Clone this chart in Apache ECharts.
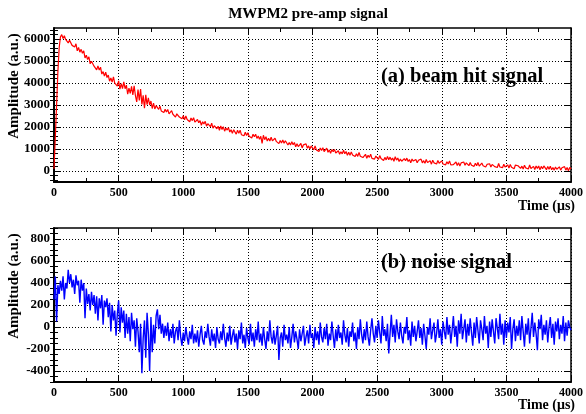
<!DOCTYPE html>
<html><head><meta charset="utf-8">
<script src="https://cdn.jsdelivr.net/npm/echarts@6/dist/echarts.min.js"></script>
<style>html,body{margin:0;padding:0;background:#fff}#c{width:586px;height:414px}</style>
</head><body><div id="c"></div>
<script>
const chartTitle = 'MWPM2 pre-amp signal';
const yTitle = 'Amplitude (a.u.)';
const xTitle = 'Time (\u03bcs)';
const labelA = '(a) beam hit signal';
const labelB = '(b) noise signal';
const xTicks = [0, 500, 1000, 1500, 2000, 2500, 3000, 3500, 4000];
const yTicksA = [0, 1000, 2000, 3000, 4000, 5000, 6000];
const yTicksB = [-400, -200, 0, 200, 400, 600, 800];
const sampleStart = 0, sampleStep = 10; // microseconds

// (a) beam hit signal, one value every 10 us (rows of 100 us)
const beamHit = [
 100, 1500, 3000, 4500, 5600, 6100, 6200, 6020, 6150, 5980,
 6070, 5820, 5940, 6000, 5710, 5770, 5640, 5780, 5460, 5620,
 5400, 5530, 5350, 5460, 5140, 5260, 5070, 5190, 4870, 4990,
 5020, 4765, 4820, 4595, 4780, 4585, 4720, 4405, 4520, 4315,
 4490, 4250, 4360, 4080, 4230, 4040, 4280, 3990, 4050, 3860,
 4100, 3720, 3970, 3740, 4050, 3740, 3900, 3490, 3770, 3530,
 3850, 3460, 3870, 3430, 3140, 3700, 3210, 3720, 3030, 3440,
 2850, 3460, 3020, 3330, 3000, 3180, 2840, 3080, 2820, 2970,
 2970, 2800, 2950, 2730, 2820, 2660, 2810, 2680, 2800, 2600,
 2570, 2740, 2580, 2660, 2450, 2600, 2620, 2450, 2530, 2370,
 2510, 2330, 2500, 2340, 2390, 2240, 2410, 2290, 2420, 2220,
 2190, 2340, 2190, 2290, 2080, 2240, 2140, 2260, 2040, 2150,
 2170, 2015, 2170, 1945, 2060, 2085, 1920, 2035, 1850, 2045,
 1890, 2015, 1810, 1955, 1860, 1975, 1770, 1875, 1710, 1875,
 1850, 1675, 1850, 1710, 1855, 1650, 1725, 1600, 1760, 1615,
 1740, 1580, 1665, 1500, 1670, 1555, 1670, 1480, 1595, 1445,
 1580, 1260, 1625, 1425, 1560, 1360, 1490, 1365, 1535, 1370,
 1320, 1490, 1345, 1435, 1245, 1390, 1270, 1410, 1265, 1375,
 1350, 1180, 1300, 1185, 1335, 1195, 1295, 1100, 1240, 1110,
 1110, 1250, 1050, 1190, 1100, 1230, 1040, 1140, 1000, 1140,
 1120, 960, 1140, 960, 1030, 890, 1045, 935, 1055, 880,
 900, 1040, 850, 960, 800, 975, 875, 975, 815, 900,
 920, 765, 875, 780, 940, 785, 885, 710, 850, 720,
 870, 730, 820, 655, 785, 665, 845, 670, 740, 610,
 630, 760, 575, 715, 620, 760, 575, 665, 540, 680,
 660, 525, 700, 565, 650, 475, 620, 505, 660, 515,
 630, 495, 590, 445, 650, 495, 590, 435, 540, 445,
 430, 565, 470, 585, 430, 525, 370, 545, 450, 515,
 520, 370, 490, 400, 540, 370, 470, 350, 520, 380,
 350, 470, 310, 490, 370, 460, 320, 480, 350, 410,
 460, 320, 400, 280, 420, 320, 460, 280, 370, 290,
 300, 410, 250, 380, 230, 370, 290, 410, 260, 370,
 360, 240, 390, 260, 320, 210, 350, 240, 390, 220,
 220, 360, 240, 330, 180, 300, 210, 330, 180, 300,
 320, 200, 280, 160, 340, 180, 260, 150, 310, 180,
 170, 280, 130, 300, 170, 240, 100, 270, 180, 240,
 250, 120, 220, 90, 260, 140, 220, 90, 270, 110,
 100, 210, 70, 230, 120, 230, 50, 210, 100, 230,
 180, 60, 210, 80, 220, 60, 160, 40, 180, 80,
 70, 190, 40, 150, 80, 200, 40, 160, 10, 160,
 90
];

// (b) noise signal, one value every 10 us (rows of 100 us)
const noise = [
 250, 460, 50, 380, 300, 420, 330, 460, 250, 400,
 350, 520, 400, 480, 360, 430, 300, 470, 380, 420,
 220, 430, 330, 400, 80, 350, 210, 300, 150, 320,
 200, 290, 120, 280, 60, 260, 170, 290, 20, 240,
 180, 260, 90, 220, -40, 200, 60, 150, -80, 120,
 240, -50, 180, 40, 150, -100, 120, -60, 90, -130,
 130, -20, 60, -180, 80, -40, -230, 30, -420, -100,
 60, -280, 130, -60, -400, 90, -230, 20, -150, 100,
 160, -20, 110, -60, 30, -100, 10, -80, 40, -130,
 -20, -100, 30, -150, -40, 0, -120, 60, -90, -170,
 -50, -130, 0, -90, -160, -40, -110, 20, -150, -60,
 -140, -30, -180, -70, 10, -120, -160, -40, -100, 30,
 -90, -170, -20, -130, -60, -190, 0, -110, -150, -40,
 -120, 30, -100, -180, -50, -130, 10, -160, -80, -20,
 -140, -60, -200, -30, -110, 40, -150, -70, -190, -10,
 -100, -160, 30, -130, -50, -180, -20, -120, 50, -140,
 -60, -170, 0, -110, -200, -40, -130, 60, -90, -150,
 -30, -160, -80, 10, -300, -100, -50, -180, 20, -120,
 -70, -150, 0, -190, -90, 30, -140, -40, -110, -200,
 -20, -130, -60, 10, -170, -90, -30, -150, 20, -100,
 -60, -190, 0, -120, -40, -160, 40, -90, -140, -10,
 -110, 30, -170, -60, -120, 50, -80, -190, -20, -130,
 20, -100, -50, -160, 60, -70, -140, -10, -180, -40,
 -90, 40, -130, -50, -200, 0, -110, 70, -70, -150,
 -20, -120, 50, -90, -170, -30, 80, -60, -140, 10,
 -100, 60, -50, -150, 100, -80, -20, -130, 30, -240,
 -60, 110, -90, 20, -140, 70, -40, -110, 40, -80,
 -150, 0, -60, 90, -120, -30, -170, 50, -90, 10,
 -130, -40, 60, -100, -10, -160, 30, -80, -200, 0,
 -70, 80, -110, -30, 40, -140, -60, 70, -100, -20,
 -160, 50, -40, -110, 90, -70, 20, -150, -30, 100,
 -90, 10, -180, 60, -60, 120, -110, -20, 70, -140,
 30, -80, 80, -50, -170, 40, -100, 90, -30, -150,
 60, -20, -120, 100, -60, 10, -190, 50, -90, 70,
 -40, -150, 80, -10, -110, 120, -70, 30, -160, 60,
 -100, 40, -50, 90, -200, -20, 70, -130, 10, -80,
 60, -120, 100, -40, -180, 30, -70, 80, -150, -10,
 130, -90, 40, -60, -210, 70, -20, 110, -120, 20,
 -70, 60, -140, 0, 90, -100, 30, -160, 50, -40,
 80, -110, 20, -60, 100, -130, 40, -80, 60, 0,
 -30
];

const FONT = 'Liberation Serif';
const toPairs = arr => arr.map((v, i) => [sampleStart + i * sampleStep, v]);
function minorVals(min, max, step, majorStep) {
  const out = [];
  for (let v = Math.ceil(min / step) * step; v <= max; v += step) {
    if (Math.abs(v % majorStep) > 1e-9) out.push(v);
  }
  return out;
}

const grids = [
  { left: 54, top: 28, width: 521, height: 154 },
  { left: 54, top: 228, width: 521, height: 154 }
];
const panels = [
  { min: -500, max: 6500, major: yTicksA, minorStep: 200, majorStep: 1000 },
  { min: -500, max: 900, major: yTicksB, minorStep: 50, majorStep: 200 }
];

const xAxis = [], yAxis = [];
const dotted = { show: true, lineStyle: { color: '#000', width: 1, type: [1, 2] } };
const plain = v => String(v);
grids.forEach((g, gi) => {
  ['bottom', 'top'].forEach(pos => {
    xAxis.push({
      type: 'value', gridIndex: gi, position: pos, min: 0, max: 4000, interval: 500,
      axisLine: { show: true, onZero: false, lineStyle: { color: '#000', width: pos === 'bottom' ? 2 : 1.5 } },
      axisTick: { show: true, inside: true, length: 7, lineStyle: { color: '#000', width: 1 } },
      minorTick: { show: true, splitNumber: 2, length: 4, lineStyle: { color: '#000', width: 1 } },
      axisLabel: pos === 'bottom'
        ? { show: true, customValues: xTicks, formatter: plain, fontFamily: FONT, fontWeight: 'bold', fontSize: 12, color: '#000', margin: 5 }
        : { show: false },
      splitLine: pos === 'bottom' ? dotted : { show: false }
    });
  });
  const p = panels[gi];
  const mv = minorVals(p.min, p.max, p.minorStep, p.majorStep);
  ['left', 'right'].forEach(pos => {
    yAxis.push({
      type: 'value', gridIndex: gi, position: pos, min: p.min, max: p.max, interval: p.majorStep / 2,
      axisLine: { show: true, onZero: false, lineStyle: { color: '#000', width: pos === 'left' ? 2 : 1.5 } },
      axisTick: { show: true, inside: true, length: 7, customValues: p.major, lineStyle: { color: '#000', width: 1 } },
      axisLabel: pos === 'left'
        ? { show: true, customValues: p.major, formatter: plain, fontFamily: FONT, fontWeight: 'bold', fontSize: 13, color: '#000', margin: 4 }
        : { show: false },
      splitLine: pos === 'left' ? dotted : { show: false }
    });
  });
  ['left', 'right'].forEach(pos => {
    yAxis.push({
      type: 'value', gridIndex: gi, position: pos, min: p.min, max: p.max, interval: p.majorStep / 2,
      axisLine: { show: false },
      axisTick: { show: true, inside: true, length: 4, customValues: mv, lineStyle: { color: '#000', width: 1 } },
      axisLabel: { show: false },
      splitLine: { show: false }
    });
  });
});

const chart = echarts.init(document.getElementById('c'), null, { renderer: 'canvas' });
const textStyle = (size) => ({ fontFamily: FONT, fontWeight: 'bold', fontSize: size, fill: '#000' });
chart.setOption({
  animation: false,
  backgroundColor: '#fff',
  grid: grids,
  xAxis, yAxis,
  series: [
    { type: 'line', xAxisIndex: 0, yAxisIndex: 0, data: toPairs(beamHit), showSymbol: false,
      lineStyle: { color: '#ff0000', width: 1.2 }, itemStyle: { color: '#ff0000' } },
    { type: 'line', xAxisIndex: 2, yAxisIndex: 4, data: toPairs(noise), showSymbol: false,
      lineStyle: { color: '#0000ff', width: 1.4 }, itemStyle: { color: '#0000ff' } }
  ],
  graphic: [
    { type: 'text', x: 308, y: 14, style: Object.assign(textStyle(15), { text: chartTitle, align: 'center', verticalAlign: 'middle' }) },
    { type: 'text', x: 14, y: 86, rotation: Math.PI / 2, style: Object.assign(textStyle(15), { text: yTitle, align: 'center', verticalAlign: 'middle' }) },
    { type: 'text', x: 14, y: 286, rotation: Math.PI / 2, style: Object.assign(textStyle(15), { text: yTitle, align: 'center', verticalAlign: 'middle' }) },
    { type: 'text', x: 575, y: 206, style: Object.assign(textStyle(14), { text: xTitle, align: 'right', verticalAlign: 'middle' }) },
    { type: 'text', x: 575, y: 405, style: Object.assign(textStyle(14), { text: xTitle, align: 'right', verticalAlign: 'middle' }) },
    { type: 'text', x: 381, y: 77, style: Object.assign(textStyle(20.5), { text: labelA, align: 'left', verticalAlign: 'middle' }) },
    { type: 'text', x: 381, y: 263, style: Object.assign(textStyle(20.5), { text: labelB, align: 'left', verticalAlign: 'middle' }) }
  ]
});
</script>
</body></html>
